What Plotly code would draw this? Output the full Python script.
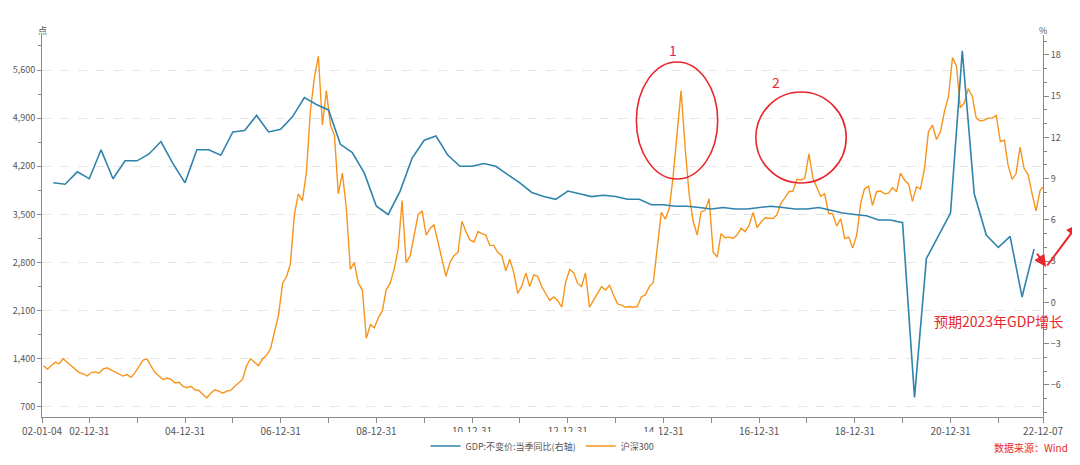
import plotly.graph_objects as go

gdp_dates = [f"{y}-{md}" for y in range(2002, 2023) for md in ["03-31", "06-30", "09-30", "12-31"]][:-1]
gdp_vals = [8.7, 8.6, 9.5, 9.0,
            11.1, 9.0, 10.3, 10.3,
            10.8, 11.7, 10.1, 8.7,
            11.1, 11.1, 10.7, 12.4,
            12.5, 13.6, 12.4, 12.6,
            13.5, 14.9, 14.4, 14.0,
            11.5, 10.9, 9.4, 7.0,
            6.4, 8.1, 10.5, 11.8,
            12.1, 10.7, 9.9, 9.9,
            10.1, 9.9, 9.3, 8.7,
            8.0, 7.7, 7.5, 8.1,
            7.9, 7.7, 7.8, 7.7,
            7.5, 7.5, 7.1, 7.1,
            7.0, 7.0, 6.9, 6.8,
            6.9, 6.8, 6.8, 6.9,
            7.0, 6.9, 6.8, 6.8,
            6.9, 6.7, 6.5, 6.4,
            6.3, 6.0, 6.0, 5.8,
            -6.9, 3.2, 4.9, 6.5,
            18.3, 7.9, 4.9, 4.0,
            4.8, 0.4, 3.9]

csi_monthly = {
    2002: [1300, 1250, 1300, 1350, 1330, 1400, 1350, 1300, 1260, 1200, 1180, 1150],
    2003: [1200, 1210, 1190, 1250, 1270, 1240, 1200, 1180, 1150, 1170, 1130, 1200],
    2004: [1300, 1380, 1400, 1300, 1200, 1150, 1100, 1120, 1100, 1050, 1060, 1000],
    2005: [980, 1000, 950, 940, 880, 830, 900, 950, 930, 900, 930, 940],
    2006: [1000, 1050, 1100, 1300, 1400, 1350, 1300, 1400, 1450, 1550, 1800, 2040],
    2007: [2500, 2600, 2780, 3500, 3800, 3700, 4100, 5000, 5500, 5800, 4800, 5300],
    2008: [4800, 4650, 3800, 4100, 3600, 2700, 2800, 2500, 2400, 1700, 1900, 1850],
    2009: [2000, 2100, 2400, 2500, 2700, 3000, 3700, 2800, 2900, 3200, 3500, 3550],
    2010: [3200, 3300, 3350, 3100, 2850, 2600, 2800, 2900, 2950, 3400, 3250, 3130],
    2011: [3100, 3250, 3220, 3200, 3050, 3050, 2950, 2900, 2680, 2850, 2650, 2350],
    2012: [2460, 2650, 2450, 2620, 2600, 2450, 2350, 2250, 2300, 2250, 2150, 2520],
    2013: [2700, 2650, 2500, 2450, 2650, 2150, 2250, 2350, 2450, 2400, 2470, 2330],
    2014: [2200, 2180, 2150, 2160, 2150, 2160, 2300, 2330, 2450, 2510, 3000, 3530],
    2015: [3430, 3600, 4050, 4750, 5300, 4470, 3800, 3400, 3200, 3540, 3560, 3730],
    2016: [2950, 2880, 3220, 3160, 3170, 3150, 3200, 3300, 3250, 3340, 3530, 3310],
    2017: [3390, 3450, 3450, 3440, 3490, 3660, 3740, 3830, 3840, 4010, 4000, 4030],
    2018: [4380, 4020, 3900, 3760, 3800, 3510, 3510, 3330, 3440, 3150, 3170, 3010],
    2019: [3200, 3670, 3870, 3910, 3630, 3830, 3840, 3800, 3810, 3890, 3830, 4100],
    2020: [4000, 3940, 3690, 3900, 3870, 4160, 4700, 4800, 4590, 4700, 5000, 5210],
    2021: [5780, 5650, 5050, 5120, 5330, 5220, 4900, 4860, 4870, 4900, 4900, 4940],
    2022: [4560, 4580, 4220, 4010, 4090, 4480, 4170, 4080, 3800, 3550, 3850, 3900],
}
csi_dates, csi_vals = [], []
for y, vals in csi_monthly.items():
    for m, v in enumerate(vals, 1):
        csi_dates.append(f"{y}-{m:02d}-07" if (y, m) == (2022, 12) else f"{y}-{m:02d}-15")
        csi_vals.append(v)

x_tickvals = ["2002-01-04"] + [f"{y}-12-31" for y in range(2002, 2021, 2)] + ["2022-12-07"]
x_ticktext = ["02-01-04"] + [f"{y % 100:02d}-12-31" for y in range(2002, 2021, 2)] + ["22-12-07"]
minor_vals = [f"{y}-12-31" for y in range(2003, 2022, 2)]
left_ticks = [700, 1400, 2100, 2800, 3500, 4200, 4900, 5600]
right_ticks = [-6, -3, 0, 3, 6, 9, 12, 15, 18]

GRAY = "#888888"
fig = go.Figure()
fig.add_trace(go.Scatter(x=gdp_dates, y=gdp_vals, name="GDP:不变价:当季同比(右轴)", yaxis="y2",
                         mode="lines", line=dict(color="#2f83ad", width=1.6)))
fig.add_trace(go.Scatter(x=csi_dates, y=csi_vals, name="沪深300", mode="lines",
                         line=dict(color="#f7941d", width=1.4)))

fig.update_layout(
    width=1080, height=465, margin=dict(l=34, r=45, t=27, b=56),
    paper_bgcolor="white", plot_bgcolor="white",
    font=dict(family="Noto Sans CJK SC", size=10, color="#555555"),
    xaxis=dict(type="date", range=["2002-01-04", "2022-12-07"], tickvals=x_tickvals, ticktext=x_ticktext,
               showline=True, linecolor=GRAY, ticks="outside", ticklen=5, tickcolor=GRAY, showgrid=False,
               automargin=False,
               minor=dict(tickvals=minor_vals, ticks="outside", ticklen=5, tickcolor=GRAY)),
    yaxis=dict(range=[554, 6109], tickvals=left_ticks, tickformat=",", showline=True, linecolor=GRAY,
               ticks="outside", ticklen=4, tickcolor=GRAY, gridcolor="#e6e6e6", griddash="dash",
               automargin=False, tickfont=dict(size=9),
               minor=dict(dtick=350, ticks="outside", ticklen=3, tickcolor=GRAY), zeroline=False),
    yaxis2=dict(range=[-8.33, 19.45], tickvals=right_ticks, overlaying="y", side="right", showline=True,
                linecolor=GRAY, ticks="outside", ticklen=5, tickcolor=GRAY, showgrid=False, zeroline=False,
                automargin=False, tickfont=dict(size=9),
                minor=dict(dtick=1, ticks="outside", ticklen=3, tickcolor=GRAY)),
    legend=dict(orientation="h", x=0.5, xanchor="center", yref="container", y=0.058, yanchor="middle",
                font=dict(size=9)),
    showlegend=True,
)

def px(X): return (X - 38) / 997
def py(Y): return (417 - Y) / 382

RED = "#e8262d"
fig.add_shape(type="circle", xref="paper", yref="paper", x0=px(630), x1=px(711), y0=py(179), y1=py(62),
              line=dict(color=RED, width=1.6))
fig.add_shape(type="circle", xref="paper", yref="paper", x0=px(749), x1=px(839), y0=py(183), y1=py(92),
              line=dict(color=RED, width=1.6))
fig.add_annotation(xref="paper", yref="paper", x=px(666), y=py(38), text="1", showarrow=False,
                   font=dict(color="#d6246e", size=14))
fig.add_annotation(xref="paper", yref="paper", x=px(775), y=py(70), text="2", showarrow=False,
                   font=dict(color=RED, size=14))
fig.add_annotation(xref="paper", yref="paper", x=px(1057), y=py(333), text="预期2023年GDP增长", showarrow=False,
                   xanchor="right", font=dict(color=RED, size=14))
fig.add_annotation(xref="paper", yref="paper", x=px(1038), y=py(267), ax=-10, ay=-15,
                   text="", showarrow=True, arrowhead=2, arrowsize=1.2, arrowwidth=2, arrowcolor=RED)
fig.add_annotation(xref="paper", yref="paper", x=px(1070), y=py(224), ax=-32, ay=43,
                   text="", showarrow=True, arrowhead=2, arrowsize=1.2, arrowwidth=2, arrowcolor=RED)
fig.add_annotation(xref="paper", yref="paper", x=0, y=py(22), text="点", showarrow=False, xanchor="center",
                   font=dict(size=9))
fig.add_annotation(xref="paper", yref="paper", x=1, y=py(22), text="%", showarrow=False, xanchor="center",
                   font=dict(size=9))
fig.add_annotation(xref="paper", yref="paper", x=px(1062), y=py(457), text="数据来源：Wind", showarrow=False,
                   xanchor="right", font=dict(color=RED, size=10))

fig.write_html("out.html")
